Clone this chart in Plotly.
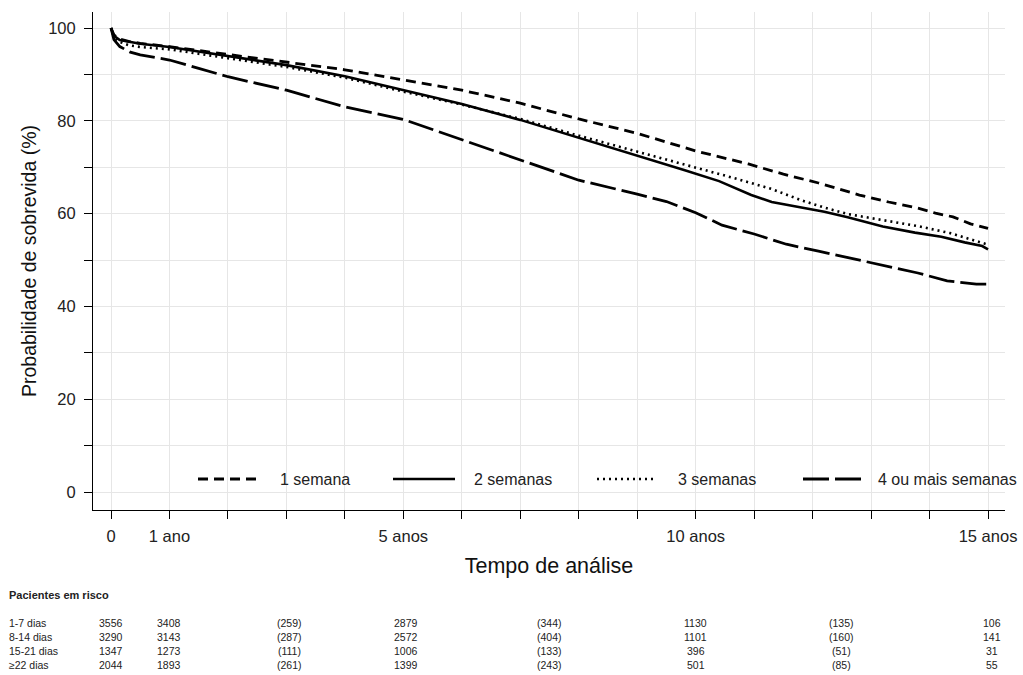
import plotly.graph_objects as go

# ---------------- data ----------------
t_1sem = [0, 0.05, 0.15, 0.3, 0.5, 1, 2, 3, 4, 5, 6, 7, 8, 9, 10, 10.9, 11.5,
          12.1, 12.8, 13.3, 13.8, 14.1, 14.4, 14.7, 15]
s_1sem = [100, 98.5, 97.6, 97.1, 96.7, 96.0, 94.3, 92.7, 91.0, 88.8, 86.6, 83.8,
          80.4, 77.3, 73.5, 70.7, 68.5, 66.6, 64.0, 62.5, 61.2, 60.1, 59.3, 57.8, 56.8]

t_2sem = [0, 0.05, 0.15, 0.3, 0.5, 1, 2, 3, 4, 5, 6, 7, 8, 9, 9.8, 10.4, 10.95,
          11.3, 11.8, 12.2, 12.6, 13.2, 13.75, 14.2, 14.6, 14.9, 15]
s_2sem = [100, 98.3, 97.4, 97.0, 96.6, 95.9, 94.0, 92.0, 89.6, 86.6, 83.6, 80.2,
          76.4, 72.6, 69.4, 67.0, 64.0, 62.5, 61.4, 60.4, 59.2, 57.2, 55.9, 55.0,
          53.8, 53.0, 52.3]

t_3sem = [0, 0.05, 0.15, 0.3, 0.5, 1, 2, 3, 4, 5, 6, 7, 8, 9, 9.5, 10.07, 10.7,
          11.3, 11.8, 12.2, 12.6, 13.2, 13.8, 14.35, 14.8, 15]
s_3sem = [100, 98.0, 97.0, 96.3, 95.9, 95.4, 93.5, 91.6, 89.3, 86.3, 83.5, 80.4,
          76.8, 73.4, 71.6, 69.6, 67.5, 65.3, 62.9, 61.3, 59.9, 58.6, 57.3, 55.8,
          54.0, 53.3]

t_4sem = [0, 0.05, 0.15, 0.33, 0.5, 1, 1.5, 2, 3, 4, 5, 6, 7, 8, 9, 9.5, 10,
          10.45, 11, 11.55, 12.1, 12.7, 13.2, 13.8, 14.3, 14.8, 15]
s_4sem = [100, 97.5, 96.0, 94.8, 94.2, 93.1, 91.3, 89.5, 86.6, 83.0, 80.3, 75.9,
          71.6, 67.2, 64.2, 62.6, 60.2, 57.5, 55.6, 53.4, 51.9, 50.2, 48.9, 47.2,
          45.5, 44.8, 44.8]

series_names = ["1 semana", "2 semanas", "3 semanas", "4 ou mais semanas"]

x_tickvals = list(range(0, 16))
x_ticktext = ["0", "1 ano", "", "", "", "5 anos", "", "", "", "", "10 anos",
              "", "", "", "", "15 anos"]
y_tickvals = list(range(0, 101, 10))
y_ticktext = ["0", "", "20", "", "40", "", "60", "", "80", "", "100"]

risk_title = "Pacientes em risco"
risk_labels = ["1-7 dias", "8-14 dias", "15-21 dias", "\u226522 dias"]
risk_cols_year = [0, 1, 3.05, 5.05, 7.5, 10, 12.5, 15.07]
risk_1_7 = ["3556", "3408", "(259)", "2879", "(344)", "1130", "(135)", "106"]
risk_8_14 = ["3290", "3143", "(287)", "2572", "(404)", "1101", "(160)", "141"]
risk_15_21 = ["1347", "1273", "(111)", "1006", "(133)", "396", "(51)", "31"]
risk_22 = ["2044", "1893", "(261)", "1399", "(243)", "501", "(85)", "55"]

# ---------------- figure ----------------
FONT = "Liberation Sans, Arial, sans-serif"
W, H = 1023, 675
ML, MR, MT, MB = 93, 18, 12, 165
plot_h = H - MT - MB
plot_w = W - ML - MR


def py(p):
    return (H - MB - p) / plot_h


def px(p):
    return (p - ML) / plot_w


fig = go.Figure()
styles = [
    dict(color="black", width=2.8, dash="10px,6px"),
    dict(color="black", width=2.6, dash="solid"),
    dict(color="black", width=2.6, dash="2px,4px"),
    dict(color="black", width=2.8, dash="26px,6px"),
]
series_t = [t_1sem, t_2sem, t_3sem, t_4sem]
series_s = [s_1sem, s_2sem, s_3sem, s_4sem]
for name, t, s, st in zip(series_names, series_t, series_s, styles):
    fig.add_trace(go.Scatter(x=t, y=s, mode="lines", name=name, line=st,
                             hoverinfo="skip", showlegend=False))

# manual legend (sample lines + labels) placed inside the plot, bottom
leg_line_x = [(198, 258), (393, 455), (597, 657), (803, 862)]
leg_text_x = [278, 472, 676, 876]
leg_y = 479
shapes = []
for (x0, x1), st in zip(leg_line_x, styles):
    shapes.append(dict(type="line", xref="paper", yref="paper",
                       x0=px(x0), x1=px(x1), y0=py(leg_y), y1=py(leg_y),
                       line=dict(color="black", width=st["width"], dash=st["dash"])))
for tx, name in zip(leg_text_x, series_names):
    fig.add_annotation(text=name, xref="paper", yref="paper", x=px(tx), y=py(leg_y),
                       xanchor="left", yanchor="middle", showarrow=False,
                       font=dict(size=16, color="#222", family=FONT))

fig.update_layout(
    width=W, height=H,
    margin=dict(l=ML, r=MR, t=MT, b=MB, autoexpand=False),
    paper_bgcolor="white", plot_bgcolor="white",
    font=dict(family=FONT, color="#222", size=16),
    showlegend=False,
    shapes=shapes,
)
fig.update_xaxes(
    range=[-0.308, 15.29], tickvals=x_tickvals, ticktext=x_ticktext,
    ticks="outside", ticklen=8, tickcolor="black", tickwidth=1,
    showline=True, linecolor="black", linewidth=1, automargin=False,
    showgrid=True, gridcolor="#e6e6e6", gridwidth=1, zeroline=False,
    tickfont=dict(size=16.5, color="#222"), ticklabelstandoff=3,
    title=dict(text="Tempo de análise", font=dict(size=21.5, color="#111"), standoff=14),
)
fig.update_yaxes(
    range=[-3.88, 103.45], tickvals=y_tickvals, ticktext=y_ticktext,
    ticks="outside", ticklen=8, tickcolor="black", tickwidth=1,
    showline=True, linecolor="black", linewidth=1, automargin=False,
    showgrid=True, gridcolor="#e6e6e6", gridwidth=1, zeroline=False,
    tickfont=dict(size=16.5, color="#222"), ticklabelstandoff=5,
    title=dict(text="Probabilidade de sobrevida (%)", font=dict(size=19.5, color="#111"), standoff=6),
)

fig.add_annotation(text="<b>" + risk_title + "</b>", xref="paper", yref="paper",
                   x=px(7), y=py(595), xanchor="left", yanchor="middle",
                   showarrow=False, font=dict(size=11, color="#222", family=FONT))
rows = [risk_1_7, risk_8_14, risk_15_21, risk_22]
row_y = [623, 637, 651, 665]
for lab, vals, ry in zip(risk_labels, rows, row_y):
    yy = py(ry)
    fig.add_annotation(text=lab, xref="paper", yref="paper", x=px(7), y=yy,
                       xanchor="left", yanchor="middle", showarrow=False,
                       font=dict(size=10.5, color="#222", family=FONT))
    for xv, v in zip(risk_cols_year, vals):
        fig.add_annotation(text=v, xref="x", yref="paper", x=xv, y=yy,
                           xanchor="center", yanchor="middle", showarrow=False,
                           font=dict(size=10.5, color="#222", family=FONT))

fig.write_html("out.html")
